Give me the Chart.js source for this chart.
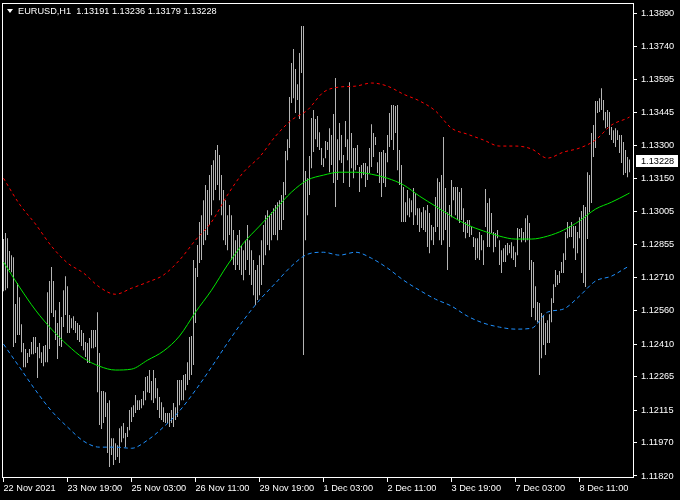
<!DOCTYPE html>
<html>
<head>
<meta charset="utf-8">
<title>EURUSD,H1</title>
<script src="https://cdn.jsdelivr.net/npm/chart.js@4.4.1/dist/chart.umd.min.js"></script>
<style>
  html, body { margin: 0; padding: 0; background: #000; }
  canvas { display: block; }
</style>
</head>
<body>
<canvas id="chart" width="680" height="500"></canvas>
<script>
// EURUSD H1 bars, 22 Nov 2021 11:00 .. 9 Dec 2021
const symbol = "EURUSD,H1";
const lastOpen = 1.13191;

const highs = [
  1.12880,1.12907,1.12884,1.12826,1.12808,1.12799,1.12589,1.12683,1.12620,1.12499,
  1.12415,1.12388,1.12370,1.12388,1.12419,1.12442,1.12442,1.12397,1.12415,1.12374,
  1.12401,1.12406,1.12642,1.12692,1.12755,1.12692,1.12562,1.12504,1.12598,1.12531,
  1.12651,1.12714,1.12669,1.12540,1.12526,1.12535,1.12513,1.12504,1.12495,1.12473,
  1.12460,1.12419,1.12415,1.12437,1.12473,1.12473,1.12473,1.12553,1.12370,1.12200,
  1.12200,1.12195,1.12146,1.12159,1.11989,1.11989,1.11967,1.11958,1.12034,1.12043,
  1.12057,1.12012,1.12039,1.12115,1.12128,1.12137,1.12182,1.12159,1.12159,1.12164,
  1.12200,1.12263,1.12267,1.12294,1.12245,1.12294,1.12258,1.12213,1.12173,1.12150,
  1.12128,1.12102,1.12102,1.12102,1.12115,1.12146,1.12128,1.12249,1.12249,1.12249,
  1.12272,1.12276,1.12329,1.12442,1.12446,1.12786,1.12750,1.12853,1.12956,1.12987,
  1.13054,1.13122,1.13099,1.13166,1.13211,1.13233,1.13278,1.13301,1.13256,1.13166,
  1.13099,1.13054,1.12987,1.13032,1.12987,1.12920,1.12875,1.12898,1.12920,1.12853,
  1.12830,1.12875,1.12943,1.12875,1.12830,1.12786,1.12741,1.12764,1.12808,1.12875,
  1.12943,1.12987,1.13009,1.12987,1.13000,1.13018,1.13032,1.13045,1.13054,1.13077,
  1.13135,1.13274,1.13327,1.13515,1.13668,1.13730,1.13641,1.13573,1.13712,1.13833,
  1.13833,1.13184,1.13152,1.13251,1.13421,1.13457,1.13417,1.13430,1.13358,1.13287,
  1.13242,1.13319,1.13314,1.13376,1.13345,1.13439,1.13600,1.13327,1.13399,1.13345,
  1.13256,1.13408,1.13327,1.13582,1.13354,1.13287,1.13287,1.13301,1.13202,1.13211,
  1.13220,1.13220,1.13206,1.13287,1.13394,1.13354,1.13336,1.13224,1.13269,1.13269,
  1.13278,1.13265,1.13345,1.13444,1.13480,1.13480,1.13475,1.13480,1.13278,1.13211,
  1.13113,1.13045,1.13099,1.13063,1.13054,1.13108,1.13086,1.13018,1.13018,1.13000,
  1.13023,1.13009,1.13032,1.12996,1.12943,1.12934,1.13068,1.13152,1.13135,1.13166,
  1.13336,1.13108,1.13000,1.13032,1.13144,1.13113,1.13113,1.13113,1.13090,1.13108,
  1.13018,1.12956,1.12965,1.12965,1.12934,1.12889,1.12884,1.12884,1.12911,1.12898,
  1.12875,1.13104,1.13041,1.13063,1.12996,1.12911,1.12907,1.12920,1.12875,1.12830,
  1.12839,1.12853,1.12862,1.12853,1.12866,1.12848,1.12821,1.12929,1.12925,1.12929,
  1.12911,1.12973,1.12987,1.12952,1.12786,1.12777,1.12669,1.12598,1.12594,1.12549,
  1.12540,1.12504,1.12517,1.12544,1.12615,1.12678,1.12741,1.12719,1.12737,1.12777,
  1.12817,1.12911,1.12956,1.12938,1.12956,1.12938,1.12938,1.12911,1.12978,1.13005,
  1.13032,1.13023,1.13179,1.13166,1.13354,1.13390,1.13498,1.13498,1.13510,1.13555,
  1.13502,1.13448,1.13457,1.13448,1.13381,1.13367,1.13376,1.13367,1.13345,1.13345,
  1.13314,1.13278,1.13247,1.13236
];

const lows = [
  1.12647,1.12651,1.12660,1.12741,1.12732,1.12397,1.12415,1.12451,1.12451,1.12374,
  1.12307,1.12307,1.12325,1.12352,1.12365,1.12365,1.12370,1.12258,1.12347,1.12325,
  1.12311,1.12329,1.12329,1.12388,1.12549,1.12531,1.12428,1.12343,1.12401,1.12397,
  1.12486,1.12540,1.12460,1.12460,1.12481,1.12473,1.12460,1.12428,1.12419,1.12401,
  1.12383,1.12352,1.12325,1.12325,1.12392,1.12392,1.12397,1.12195,1.12048,1.12030,
  1.12057,1.12084,1.11923,1.11860,1.11914,1.11869,1.11891,1.11905,1.11878,1.11971,
  1.11989,1.11949,1.11994,1.12025,1.12061,1.12084,1.12102,1.12115,1.12115,1.12123,
  1.12137,1.12159,1.12195,1.12191,1.12159,1.12146,1.12168,1.12115,1.12079,1.12070,
  1.12061,1.12057,1.12057,1.12039,1.12057,1.12039,1.12070,1.12084,1.12137,1.12159,
  1.12159,1.12204,1.12227,1.12249,1.12272,1.12316,1.12504,1.12710,1.12773,1.12786,
  1.12853,1.12875,1.12898,1.12943,1.12987,1.13054,1.13099,1.13122,1.13054,1.12987,
  1.12875,1.12853,1.12830,1.12898,1.12786,1.12764,1.12741,1.12764,1.12741,1.12719,
  1.12696,1.12741,1.12786,1.12719,1.12674,1.12629,1.12585,1.12607,1.12629,1.12674,
  1.12764,1.12808,1.12853,1.12830,1.12875,1.12898,1.12898,1.12875,1.12920,1.12920,
  1.12965,1.13077,1.13233,1.13287,1.13489,1.13510,1.13444,1.13502,1.13417,1.13623,
  1.12361,1.12875,1.12987,1.13077,1.13197,1.13269,1.13327,1.13292,1.13278,1.13211,
  1.13202,1.13242,1.13278,1.13179,1.13211,1.13131,1.13023,1.13144,1.13233,1.13220,
  1.13131,1.13292,1.13233,1.13113,1.13197,1.13152,1.13188,1.13211,1.13090,1.13152,
  1.13166,1.13113,1.13144,1.13175,1.13202,1.13247,1.13301,1.13175,1.13131,1.13068,
  1.13131,1.13113,1.13224,1.13292,1.13323,1.13278,1.13354,1.13188,1.13122,1.12956,
  1.12956,1.12956,1.12987,1.12978,1.13000,1.12943,1.12987,1.12943,1.12911,1.12929,
  1.12920,1.12911,1.12844,1.12817,1.12875,1.12853,1.12911,1.12934,1.12875,1.12853,
  1.12875,1.12920,1.12741,1.12844,1.12978,1.13054,1.12987,1.12965,1.12952,1.12965,
  1.12911,1.12884,1.12907,1.12889,1.12898,1.12844,1.12786,1.12794,1.12786,1.12830,
  1.12764,1.12934,1.12844,1.12844,1.12907,1.12821,1.12844,1.12884,1.12764,1.12728,
  1.12777,1.12777,1.12808,1.12817,1.12794,1.12786,1.12755,1.12808,1.12889,1.12866,
  1.12875,1.12866,1.12875,1.12741,1.12531,1.12571,1.12517,1.12508,1.12272,1.12347,
  1.12406,1.12361,1.12415,1.12415,1.12508,1.12594,1.12665,1.12674,1.12683,1.12728,
  1.12728,1.12786,1.12884,1.12889,1.12889,1.12839,1.12786,1.12817,1.12884,1.12728,
  1.12683,1.12665,1.12880,1.13000,1.13041,1.13247,1.13287,1.13444,1.13448,1.13457,
  1.13412,1.13376,1.13381,1.13345,1.13323,1.13310,1.13292,1.13323,1.13265,1.13220,
  1.13166,1.13175,1.13157,1.13179
];
const lastClose = 1.13228;

// indicator lines, read every 8th bar
const lineIdx = [0,8,16,24,32,40,48,56,64,72,80,88,96,104,112,120,128,136,144,152,
  160,168,176,184,192,200,208,216,224,232,240,248,256,264,272,280,288,296,304,312,313];
const midLine = [
  1.12777,1.12665,1.12562,1.12477,1.12406,1.12347,1.12311,1.12294,1.12298,1.12338,
  1.12379,1.12446,1.12553,1.12651,1.12764,1.12862,1.12938,1.13014,1.13090,1.13144,
  1.13166,1.13179,1.13179,1.13170,1.13152,1.13122,1.13072,1.13027,1.12982,1.12943,
  1.12916,1.12893,1.12880,1.12880,1.12893,1.12920,1.12961,1.13014,1.13045,1.13081,1.13086
];
const upperLine = [
  1.13152,1.13036,1.12947,1.12848,1.12773,1.12728,1.12665,1.12633,1.12660,1.12687,
  1.12719,1.12786,1.12875,1.12956,1.13077,1.13179,1.13247,1.13340,1.13412,1.13457,
  1.13537,1.13560,1.13564,1.13578,1.13564,1.13528,1.13498,1.13453,1.13376,1.13349,
  1.13323,1.13296,1.13296,1.13283,1.13242,1.13269,1.13287,1.13323,1.13390,1.13421,1.13426
];
const lowerLine = [
  1.12410,1.12307,1.12204,1.12111,1.12039,1.11976,1.11949,1.11949,1.11944,1.11980,
  1.12039,1.12111,1.12204,1.12307,1.12415,1.12517,1.12607,1.12683,1.12759,1.12812,
  1.12821,1.12808,1.12821,1.12794,1.12750,1.12696,1.12651,1.12611,1.12580,1.12535,
  1.12504,1.12486,1.12477,1.12481,1.12553,1.12567,1.12625,1.12692,1.12714,1.12755,1.12759
];

const priceTicks = [1.11820,1.11970,1.12115,1.12265,1.12410,1.12560,1.12710,1.12855,
  1.13005,1.13150,1.13300,1.13445,1.13595,1.13740,1.13890];
const timeIdx = [0,32,64,96,128,160,192,224,256,288];
const timeLabels = ["22 Nov 2021","23 Nov 19:00","25 Nov 03:00","26 Nov 11:00","29 Nov 19:00",
  "1 Dec 03:00","2 Dec 11:00","3 Dec 19:00","7 Dec 03:00","8 Dec 11:00"];

const FONT_FAMILY = '"Liberation Sans", Arial, sans-serif';
const FONT_SIZE = 9.2;
const font = { family: FONT_FAMILY, size: FONT_SIZE };

const toPoints = (xs, ys) => xs.map((x, k) => ({ x: x, y: ys[k] }));

// black background + white frame, header text, last price box
const terminalLook = {
  id: "terminalLook",
  beforeDraw(chart) {
    const ctx = chart.ctx;
    ctx.save();
    ctx.fillStyle = "#000";
    ctx.fillRect(0, 0, chart.width, chart.height);
    ctx.restore();
  },
  afterDraw(chart) {
    const ctx = chart.ctx;
    const a = chart.chartArea;
    ctx.save();
    ctx.strokeStyle = "#fff";
    ctx.lineWidth = 1;
    ctx.strokeRect(a.left + 0.5, a.top + 0.5, a.right - a.left - 1, a.bottom - a.top - 1);

    // header
    ctx.fillStyle = "#fff";
    ctx.beginPath();
    ctx.moveTo(a.left + 5, a.top + 6);
    ctx.lineTo(a.left + 11, a.top + 6);
    ctx.lineTo(a.left + 8, a.top + 10);
    ctx.closePath();
    ctx.fill();
    const n = highs.length - 1;
    const head = symbol + "  " + [lastOpen, highs[n], lows[n], lastClose].map(v => v.toFixed(5)).join(" ");
    ctx.font = FONT_SIZE + "px " + FONT_FAMILY;
    ctx.textBaseline = "alphabetic";
    ctx.fillText(head, a.left + 16, a.top + 11);

    // last price label
    const y = chart.scales.y.getPixelForValue(lastClose);
    ctx.fillStyle = "#fff";
    ctx.fillRect(a.right + 2, Math.round(y) - 6, 42, 12);
    ctx.fillStyle = "#000";
    ctx.textBaseline = "middle";
    ctx.fillText(lastClose.toFixed(5), a.right + 7, Math.round(y) + 0.5);
    ctx.restore();
  }
};

new Chart(document.getElementById("chart"), {
  type: "bar",
  data: {
    datasets: [
      {
        type: "line",
        data: toPoints(lineIdx, upperLine),
        borderColor: "#ff0000",
        borderWidth: 1,
        borderDash: [3, 3],
        pointRadius: 0,
        cubicInterpolationMode: "monotone",
        order: 1
      },
      {
        type: "line",
        data: toPoints(lineIdx, lowerLine),
        borderColor: "#1e90ff",
        borderWidth: 1,
        borderDash: [4, 3],
        pointRadius: 0,
        cubicInterpolationMode: "monotone",
        order: 1
      },
      {
        type: "line",
        data: toPoints(lineIdx, midLine),
        borderColor: "#00e600",
        borderWidth: 1,
        pointRadius: 0,
        cubicInterpolationMode: "monotone",
        order: 1
      },
      {
        type: "bar",
        data: highs.map((h, i) => ({ x: i, y: [lows[i], h] })),
        backgroundColor: "#b4b4b4",
        borderWidth: 0,
        barThickness: 1,
        inflateAmount: 0,
        grouped: false,
        order: 5
      }
    ]
  },
  options: {
    responsive: false,
    animation: false,
    events: [],
    layout: { padding: { left: 2, top: 3, right: 0, bottom: 0 } },
    plugins: { legend: { display: false }, tooltip: { enabled: false } },
    scales: {
      x: {
        type: "linear",
        offset: false,
        min: -0.75,
        max: 315.25,
        afterBuildTicks: s => { s.ticks = timeIdx.map(v => ({ value: v })); },
        afterFit: s => { s.height = 22; s.paddingLeft = 0; s.paddingRight = 0; },
        grid: { color: "#fff", offset: false, drawOnChartArea: false, tickLength: 4 },
        border: { display: false },
        ticks: {
          autoSkip: false, maxRotation: 0, minRotation: 0, align: "start",
          padding: 1, color: "#fff", font: font,
          callback: (v, i) => timeLabels[i]
        }
      },
      y: {
        type: "linear",
        position: "right",
        min: 1.11811,
        max: 1.13936,
        afterBuildTicks: s => { s.ticks = priceTicks.map(v => ({ value: v })); },
        afterFit: s => { s.width = 46; s.paddingTop = 0; s.paddingBottom = 0; },
        grid: { color: "#fff", drawOnChartArea: false, tickLength: 3 },
        border: { display: false },
        ticks: {
          autoSkip: false, padding: 4, color: "#fff", font: font,
          callback: v => v.toFixed(5)
        }
      }
    }
  },
  plugins: [terminalLook]
});
</script>
</body>
</html>
